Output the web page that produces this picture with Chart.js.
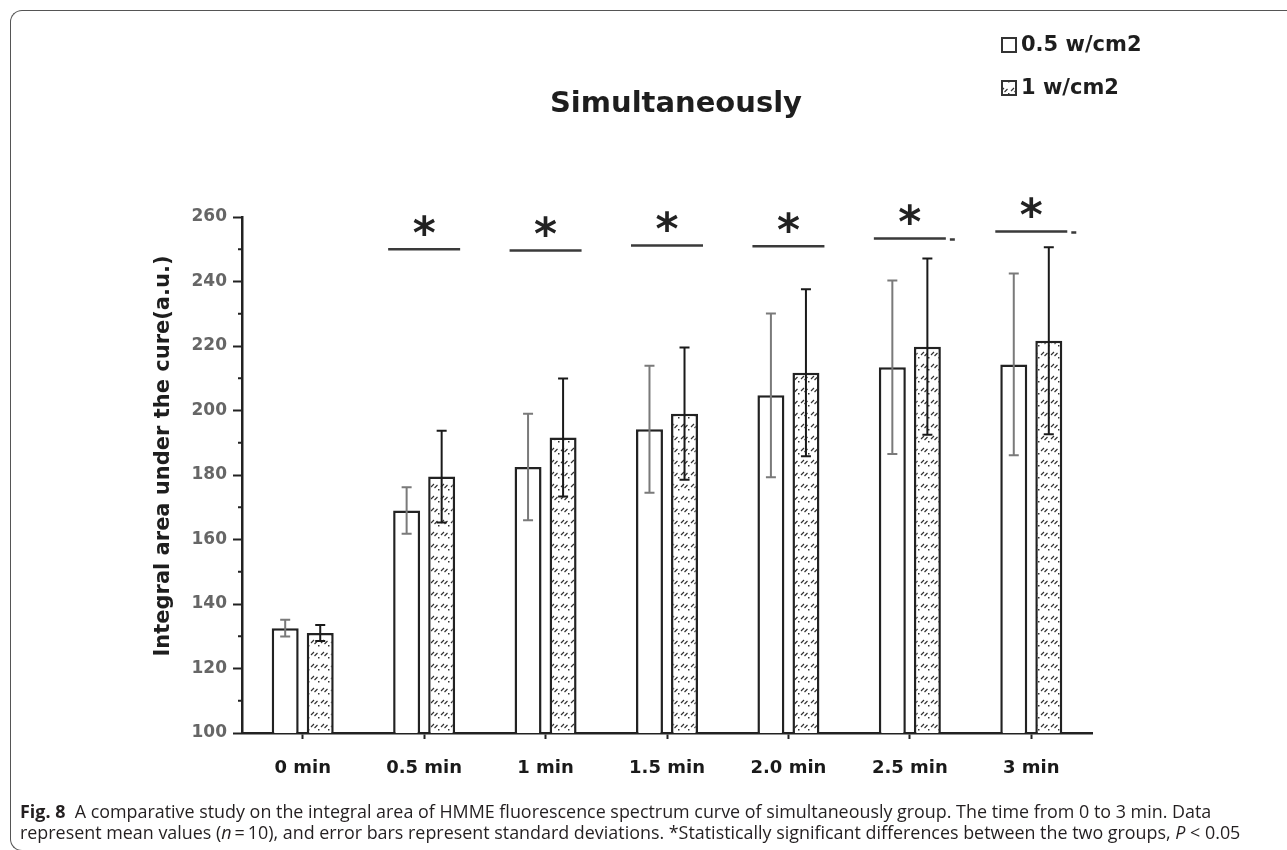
<!DOCTYPE html>
<html>
<head>
<meta charset="utf-8">
<script src="https://cdn.jsdelivr.net/npm/chart.js@4.4.1/dist/chart.umd.min.js"></script>
<style>
html, body { margin: 0; padding: 0; background: #fff; }
#wrap { position: absolute; left: 0; top: 0; width: 1287px; height: 850px; overflow: hidden; }
#frame { position: absolute; left: 10px; top: 10px; width: 1330px; height: 841px; border: 1.5px solid #555;
  border-right: none; border-radius: 12px 0 0 12px; box-sizing: border-box; }
#chart { position: absolute; left: 0; top: 0; }
#caption { position: absolute; left: 20px; top: 801px; font-family: "Open Sans", sans-serif; font-size: 17.9px;
  line-height: 21px; color: #231f20; white-space: nowrap; }
</style>
</head>
<body>
<div id="wrap">
  <div id="frame"></div>
  <canvas id="chart" width="1287" height="850"></canvas>
  <div id="caption"><b>Fig. 8</b>&nbsp; A comparative study on the integral area of HMME fluorescence spectrum curve of simultaneously group. The time from 0 to 3 min. Data<br>represent mean values (<i>n</i>&#8201;=&#8201;10), and error bars represent standard deviations. *Statistically significant differences between the two groups, <i>P</i> &lt; 0.05</div>
</div>
<script>
// data
const categories = ['0 min', '0.5 min', '1 min', '1.5 min', '2.0 min', '2.5 min', '3 min']
const seriesNames = ['0.5 w/cm2', '1 w/cm2']
const lowPower = [132.5, 169, 182.5, 194.2, 204.7, 213.4, 214.3]
const lowPowerSD = [2.6, 7.2, 16.5, 19.7, 25.4, 26.9, 28.2]
const highPower = [131, 179.5, 191.6, 199, 211.7, 219.8, 221.6]
const highPowerSD = [2.5, 14.2, 18.3, 20.5, 25.9, 27.3, 29]
// height of the significance bar, null = none
const sigLevel = [null, 250, 249.6, 251.2, 250.9, 253.3, 255.5]
const sigTail = [false, false, false, false, false, true, true]

const canvas = document.getElementById('chart')
const ctx = canvas.getContext('2d')

// little "//" hatch like the original
function makeHatch() {
    const c = document.createElement('canvas')
    c.width = 10
    c.height = 12
    const g = c.getContext('2d')
    g.fillStyle = '#fff'
    g.fillRect(0, 0, 10, 12)
    g.strokeStyle = '#333'
    g.lineWidth = 1.2
    g.beginPath()
    g.moveTo(1, 7); g.lineTo(4, 4)
    g.moveTo(4.5, 8); g.lineTo(7.5, 5)
    g.stroke()
    g.fillStyle = '#333'
    g.fillRect(8, 9, 1.5, 1.5)
    return ctx.createPattern(c, 'repeat')
}
const hatch = makeHatch()

const sdLists = [lowPowerSD, highPowerSD]
const errColors = ['#7a7a7a', '#1a1a1a']

const errorBars = {
    id: 'errorBars',
    afterDatasetsDraw(chart) {
        const c = chart.ctx
        const y = chart.scales.y
        chart.data.datasets.forEach((ds, i) => {
            const meta = chart.getDatasetMeta(i)
            c.save()
            c.strokeStyle = errColors[i]
            c.lineWidth = 2
            meta.data.forEach((bar, j) => {
                const top = y.getPixelForValue(ds.data[j] + sdLists[i][j])
                const bot = y.getPixelForValue(ds.data[j] - sdLists[i][j])
                c.beginPath()
                c.moveTo(bar.x, top); c.lineTo(bar.x, bot)
                c.moveTo(bar.x - 5, top); c.lineTo(bar.x + 5, top)
                c.moveTo(bar.x - 5, bot); c.lineTo(bar.x + 5, bot)
                c.stroke()
            })
            c.restore()
        })
    }
}

const signif = {
    id: 'signif',
    afterDraw(chart) {
        const c = chart.ctx
        const x = chart.scales.x
        const y = chart.scales.y
        c.save()
        c.strokeStyle = '#3a3a3a'
        c.fillStyle = '#222'
        c.lineWidth = 2.5
        c.font = 'bold 44px "DejaVu Sans"'
        c.textAlign = 'center'
        c.textBaseline = 'alphabetic'
        const m = c.measureText('*')
        sigLevel.forEach((lvl, i) => {
            if (lvl === null) return
            const cx = x.getPixelForValue(i)
            const yy = y.getPixelForValue(lvl)
            c.beginPath()
            c.moveTo(cx - 36, yy); c.lineTo(cx + 36, yy)
            if (sigTail[i]) { c.moveTo(cx + 40, yy + 1); c.lineTo(cx + 45, yy + 1) }
            c.stroke()
            const mid = yy - 24
            c.fillText('*', cx, mid + (m.actualBoundingBoxAscent - m.actualBoundingBoxDescent) / 2)
        })
        c.restore()
    }
}

// minor y ticks (shorter) every 10
const minorTicks = {
    id: 'minorTicks',
    afterDraw(chart) {
        const c = chart.ctx
        const y = chart.scales.y
        c.save()
        c.strokeStyle = '#222'
        c.lineWidth = 2
        y.ticks.forEach(t => {
            if (t.value % 20 === 0) return
            const py = y.getPixelForValue(t.value)
            c.beginPath()
            c.moveTo(y.right - 4, py); c.lineTo(y.right, py)
            c.stroke()
        })
        c.restore()
    }
}

const texts = {
    id: 'texts',
    afterDraw(chart) {
        const c = chart.ctx
        c.save()
        c.fillStyle = '#1e1e1e'
        c.textAlign = 'center'
        c.textBaseline = 'middle'
        c.font = 'bold 29px "DejaVu Sans"'
        c.fillText('Simultaneously', 676, 104)

        // y axis title
        c.save()
        c.translate(164, 456)
        c.rotate(-Math.PI / 2)
        c.font = 'bold 21px "DejaVu Sans"'
        c.fillText('Integral area under the cure(a.u.)', 0, 0)
        c.restore()

        // legend
        const rows = [45, 88]
        c.textAlign = 'left'
        c.font = 'bold 21px "DejaVu Sans"'
        chart.data.datasets.forEach((ds, i) => {
            const ry = rows[i]
            c.fillStyle = ds.backgroundColor
            c.fillRect(1002, ry - 7, 14, 14)
            c.strokeStyle = '#333'
            c.lineWidth = 2
            c.strokeRect(1002, ry - 7, 14, 14)
            c.fillStyle = '#1e1e1e'
            c.fillText(ds.label, 1021, ry + 1)
        })
        c.restore()
    }
}

const chart = new Chart(canvas, {
    type: 'bar',
    data: {
        labels: categories,
        datasets: [{
            label: seriesNames[0],
            data: lowPower,
            backgroundColor: '#ffffff',
            borderColor: '#222',
            borderWidth: 2.5,
            borderSkipped: false,
            categoryPercentage: 0.577,
            barPercentage: 0.77
        }, {
            label: seriesNames[1],
            data: highPower,
            backgroundColor: hatch,
            borderColor: '#222',
            borderWidth: 2.5,
            borderSkipped: false,
            categoryPercentage: 0.577,
            barPercentage: 0.77
        }]
    },
    options: {
        responsive: false,
        animation: false,
        layout: { padding: { left: 140, right: 195, top: 217, bottom: 57 } },
        plugins: {
            legend: { display: false },
            title: { display: false },
            tooltip: { enabled: false }
        },
        scales: {
            x: {
                grid: { drawOnChartArea: false, offset: false, tickLength: 6, tickWidth: 2, tickColor: '#222' },
                border: { color: '#222', width: 2.5 },
                ticks: { color: '#1a1a1a', font: { family: 'DejaVu Sans', weight: 'bold', size: 18 }, padding: 19 },
                afterFit(s) { s.height = 60 }
            },
            y: {
                min: 100,
                max: 260,
                ticks: {
                    stepSize: 10,
                    autoSkip: false,
                    color: '#666',
                    font: { family: 'DejaVu Sans', weight: 'bold', size: 17 },
                    padding: 6,
                    callback: v => (v % 20 === 0 ? v : '')
                },
                grid: {
                    drawOnChartArea: false,
                    tickLength: 9,
                    tickWidth: 2,
                    tickColor: c => (c.tick && c.tick.value % 20 === 0 ? '#222' : 'rgba(0,0,0,0)')
                },
                border: { color: '#222', width: 2.5 },
                afterFit(s) { s.width = 102 }
            }
        }
    },
    plugins: [errorBars, signif, minorTicks, texts]
})
</script>
</body>
</html>
